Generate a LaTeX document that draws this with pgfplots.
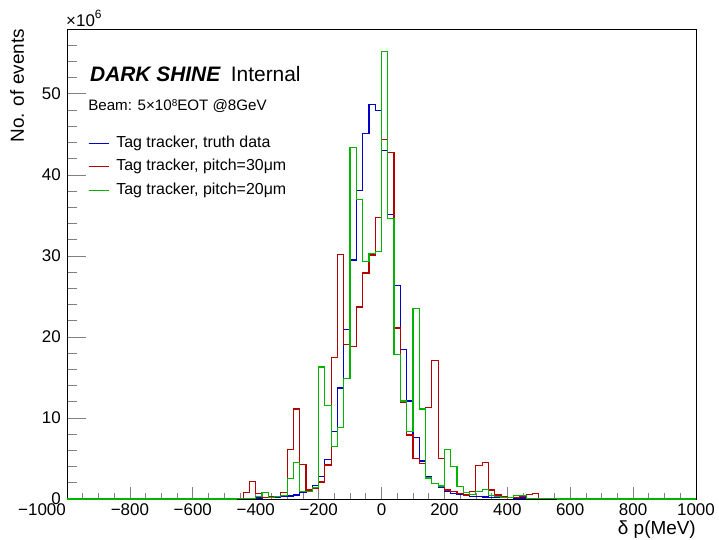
\documentclass[border=0pt]{standalone}
\usepackage{fontspec}
\setmainfont{Liberation Sans}
\usepackage{pgfplots}
\usepackage{pgfplotstable}
\pgfplotsset{compat=1.18}
\definecolor{hblue}{RGB}{0,0,200}
\definecolor{hred}{RGB}{180,0,0}
\definecolor{hgreen}{RGB}{0,180,0}

\pgfplotstableread{
x b r g
-1000 0.03 0 0
-980 0.03 0 0
-960 0.03 0 0
-940 0.03 0 0
-920 0.03 0 0
-900 0.03 0 0
-880 0.03 0 0
-860 0.03 0 0
-840 0.03 0 0
-820 0.03 0 0
-800 0.03 0 0
-780 0.03 0 0
-760 0.03 0 0
-740 0.03 0 0
-720 0.03 0 0
-700 0.03 0 0
-680 0.03 0 0
-660 0.03 0 0
-640 0.03 0 0
-620 0.03 0 0
-600 0.03 0 0
-580 0.03 0 0
-560 0.03 0 0
-540 0.03 0 0
-520 0.04 0 0
-500 0.04 0 0
-480 0.04 0 0
-460 0.05 0.05 0.05
-440 0.08 0.8 0.1
-420 0.1 2.2 0.1
-400 0.12 0.7 0.3
-380 0.15 0.2 0.8
-360 0.18 0.3 0.2
-340 0.22 0.3 0.3
-320 0.28 0.8 0.4
-300 0.37 6.1 2.5
-280 0.5 11.1 4.5
-260 0.8 4.3 0.9
-240 1.2 1.1 0.9
-220 1.7 1.3 1.4
-200 2.8 2.1 16.3
-180 4.9 4.2 11.5
-160 8.3 17.5 6.5
-140 13.7 30.2 8.8
-120 20.9 19.1 14.9
-100 29.5 18.8 43.4
-80 38.1 23.7 37.0
-60 45.1 27.9 29.3
-40 48.7 30.1 30.3
-20 47.9 34.7 30.5
0 43.0 44.4 55.2
20 35.1 42.8 34.6
40 26.3 21.1 17.8
60 18.4 11.9 12.1
80 12.1 7.9 8.3
100 7.6 5.0 23.5
120 4.7 4.4 11.1
140 2.8 11.3 2.6
160 1.9 17.1 1.9
180 1.4 5.0 1.6
200 0.9 1.1 6.1
220 0.7 0.9 4.0
240 0.55 0.7 1.5
260 0.45 0.5 0.8
280 0.35 0.9 0.6
300 0.3 4.1 0.9
320 0.25 4.5 1.2
340 0.22 1.1 0.4
360 0.2 0.5 0.3
380 0.18 0.3 0.2
400 0.15 0.2 0.2
420 0.13 0.2 0.4
440 0.12 0.3 0.4
460 0.1 0.6 0.1
480 0.09 0.7 0.1
500 0.08 0.1 0.05
520 0.07 0.05 0.03
540 0.06 0.03 0.02
560 0.05 0 0
580 0.05 0 0
600 0.05 0 0
620 0.05 0 0
640 0.05 0 0
660 0.04 0 0
680 0.04 0 0
700 0.03 0 0
720 0.03 0 0
740 0.03 0 0
760 0.03 0 0
780 0.03 0 0
800 0.03 0 0
820 0.03 0 0
840 0.03 0 0
860 0.03 0 0
880 0.03 0 0
900 0.03 0 0
920 0.03 0 0
940 0.03 0 0
960 0.03 0 0
980 0.03 0 0
1000 0.03 0 0
}\histdata

\begin{document}
\begin{tikzpicture}
\useasboundingbox (-67bp,-41bp) rectangle (652bp,499bp);
\begin{axis}[
  at={(0,0)}, anchor=south west,
  scale only axis, width=629bp, height=470bp,
  xmin=-1000, xmax=1000, ymin=0, ymax=58,
  clip=false,
  axis line style={line width=0.8bp},
  tick align=inside,
  xtick pos=bottom, ytick pos=left,
  xtick={-1000,-800,...,1000},
  xticklabels={\makebox[0pt][c]{\hspace*{-50bp}−1000},−800,−600,−400,−200,0,200,400,600,800,1000},
  minor xtick={-950,-900,...,950},
  ytick={0,10,...,50}, yticklabels={0,10,20,30,40,50},
  minor ytick={2,4,...,56},
  xtick style={/pgfplots/major tick length=12bp, /pgfplots/minor tick length=6bp, line width=0.7bp},
  ytick style={/pgfplots/major tick length=19bp, /pgfplots/minor tick length=10bp, line width=0.7bp},
  ticklabel style={font=\fontsize{17}{20}\selectfont, inner sep=0pt},
  xticklabel style={anchor=north, yshift=-4bp},
  yticklabel style={anchor=east, xshift=-6bp},
  ylabel={No. of events},
  ylabel style={at={(axis description cs:-0.0795,1)}, anchor=east, inner sep=0pt, font=\fontsize{19}{22}\selectfont},
  xlabel={δ p(MeV)},
  xlabel style={at={(axis description cs:1,0)}, anchor=base east, yshift=-35bp, inner sep=0pt, font=\fontsize{19}{22}\selectfont},
  legend style={at={(axis cs:-933,44.84)}, anchor=north west, draw=none, fill=none, inner sep=0pt, outer sep=0pt, row sep=8.4bp, column sep=7bp, font=\fontsize{16}{18}\selectfont, nodes={inner sep=0pt, text height=11.7bp, text depth=3.4bp}},
  legend cell align=left,
  legend image code/.code={\draw[#1] (0bp,0bp) -- (20bp,0bp);},
]
\addplot[const plot mark left, draw=hblue, line width=1.2bp] table[x=x, y=b] {\histdata};
\addlegendentry{Tag tracker, truth data}
\addplot[const plot mark left, draw=hred, line width=1.2bp] table[x=x, y=r] {\histdata};
\addlegendentry{Tag tracker, pitch=30μm}
\addplot[const plot mark left, draw=hgreen, line width=1.2bp] table[x=x, y=g] {\histdata};
\addlegendentry{Tag tracker, pitch=20μm}

\node[anchor=base west, inner sep=0pt, font=\fontsize{21}{24}\selectfont] at (axis cs:-927,51.52) {\textbf{\textit{DARK SHINE}}\hspace{10bp}Internal};
\node[anchor=base west, inner sep=0pt, font=\fontsize{15.2}{18}\selectfont] at (axis cs:-933,47.94) {Beam: 5×10\raisebox{4.5bp}{\fontsize{10}{12}\selectfont 8}EOT @8GeV};
\node[anchor=base west, inner sep=0pt, font=\fontsize{17}{20}\selectfont, yshift=2.3bp, xshift=-1bp] at (rel axis cs:0,1) {×10\raisebox{8.4bp}{\fontsize{12}{14}\selectfont 6}};
\end{axis}
\end{tikzpicture}
\end{document}
